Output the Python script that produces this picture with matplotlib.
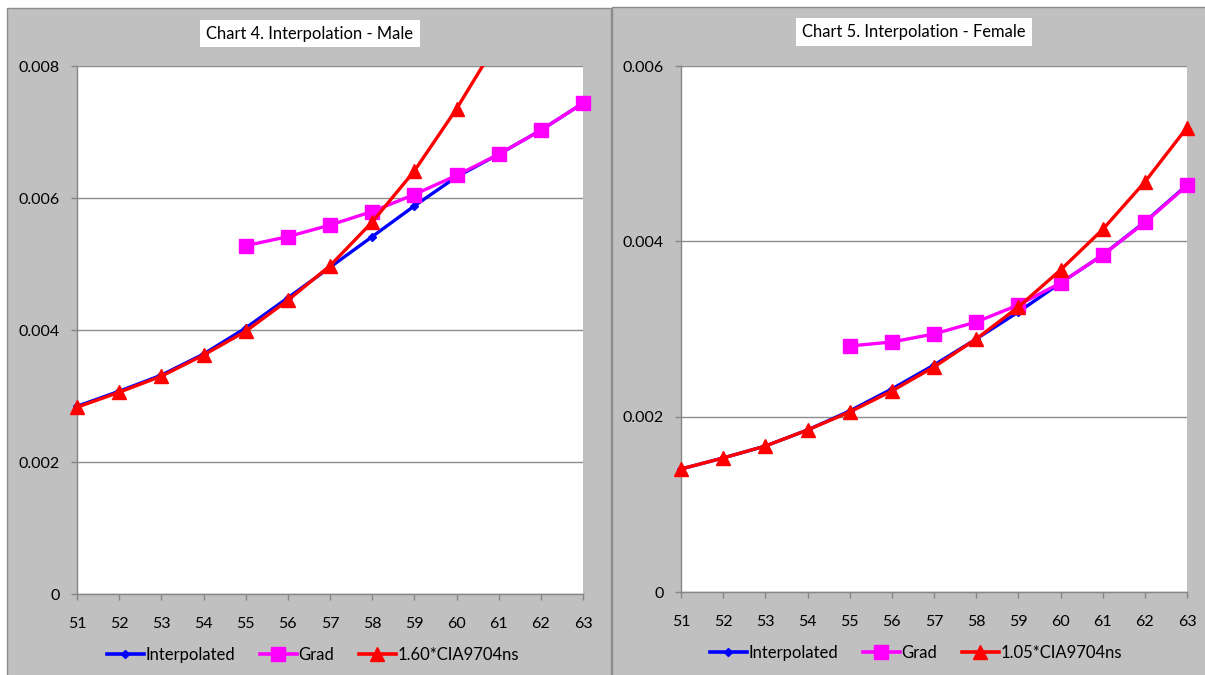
import matplotlib
matplotlib.use("Agg")
import matplotlib.pyplot as plt
from matplotlib.patches import Rectangle
from matplotlib.lines import Line2D

plt.rcParams["font.family"] = ["Lato", "DejaVu Sans"]

# ---- data ----
ages = list(range(51, 64))
grad_ages = list(range(55, 64))

male_interp = [0.002844, 0.003072, 0.003316, 0.003635, 0.004030, 0.004487, 0.004950,
               0.005414, 0.005880, 0.006320, 0.006662, 0.007027, 0.007437]
male_grad = [0.005278, 0.005414, 0.005590, 0.005795, 0.006053, 0.006342, 0.006662,
             0.007027, 0.007437]
male_cia = [0.002829, 0.003057, 0.003300, 0.003620, 0.003980, 0.004450, 0.004973,
            0.005635, 0.006410, 0.007350, 0.008400, 0.009600, 0.011000]

female_interp = [0.001403, 0.001529, 0.001665, 0.001848, 0.002065, 0.002316, 0.002589,
                 0.002886, 0.003194, 0.003525, 0.003844, 0.004221, 0.004643]
female_grad = [0.002806, 0.002852, 0.002943, 0.003080, 0.003274, 0.003525, 0.003844,
               0.004215, 0.004637]
female_cia = [0.001403, 0.001529, 0.001665, 0.001848, 0.002053, 0.002293, 0.002567,
              0.002886, 0.003251, 0.003673, 0.004135, 0.004677, 0.005298]

titles = ["Chart 4. Interpolation - Male", "Chart 5. Interpolation - Female"]
series_labels = [["Interpolated", "Grad", "1.60*CIA9704ns"],
                 ["Interpolated", "Grad", "1.05*CIA9704ns"]]
y_maxes = [0.008, 0.006]
y_ticks = [[0, 0.002, 0.004, 0.006, 0.008], [0, 0.002, 0.004, 0.006]]

# ---- figure geometry (pixels) ----
W, H = 1205, 675
fig = plt.figure(figsize=(W / 100, H / 100), dpi=100, facecolor="white")


def fbox(x0, y0, x1, y1):
    return [x0 / W, 1 - y1 / H, (x1 - x0) / W, (y1 - y0) / H]


GRAY = "#c0c0c0"
EDGE = "#8c8c8c"

# panel backgrounds
for (x0, y0, x1, y1) in [(7, 8, 611, 690), (612, 7, 1220, 690)]:
    b = fbox(x0, y0, x1, y1)
    fig.patches.append(Rectangle((b[0], b[1]), b[2], b[3], transform=fig.transFigure,
                                 facecolor=GRAY, edgecolor=EDGE, lw=1, zorder=-2))

# title boxes
for (x0, y0, x1, y1), t in zip([(200, 20, 420, 47), (796, 18, 1032, 46)], titles):
    b = fbox(x0, y0, x1, y1)
    fig.patches.append(Rectangle((b[0], b[1]), b[2], b[3], transform=fig.transFigure,
                                 facecolor="white", edgecolor="none", zorder=-1))
    fig.text((x0 + x1) / 2 / W, 1 - (y0 + y1) / 2 / H, t, ha="center", va="center",
             fontsize=11.9, color="black", zorder=2)

axes_boxes = [(77, 66, 583, 594), (681, 66, 1187, 592)]
legend_centers = [(313, 655), (916, 653)]
data = [(male_interp, male_grad, male_cia), (female_interp, female_grad, female_cia)]

styles = [dict(color="#0000ff", marker="D", ms=4.5),
          dict(color="#ff00ff", marker="s", ms=9.5),
          dict(color="#ff0000", marker="^", ms=10)]

for i in range(2):
    ax = fig.add_axes(fbox(*axes_boxes[i]))
    ax.set_zorder(5)
    ax.set_facecolor("white")
    ax.set_xlim(51, 63)
    ax.set_ylim(0, y_maxes[i])
    ax.set_xticks(ages)
    ax.set_yticks(y_ticks[i])
    ax.set_yticklabels(["0" if v == 0 else f"{v:.3f}" for v in y_ticks[i]])
    ax.yaxis.grid(True, color=EDGE, lw=1)
    ax.set_axisbelow(True)
    for s in ("top", "right"):
        ax.spines[s].set_visible(False)
    for s in ("left", "bottom"):
        ax.spines[s].set_color("#868686")
        ax.spines[s].set_linewidth(1)
    ax.tick_params(axis="both", direction="out", length=4.5, width=1, color="#868686",
                   labelsize=11.5, labelcolor="black")
    ax.tick_params(axis="y", pad=8)
    ax.tick_params(axis="x", pad=12)

    # clip vertically to the plot area but let markers spill past the sides
    clip = Rectangle((-0.05, 0), 1.1, 1, transform=ax.transAxes)
    xs = [ages, grad_ages, ages]
    handles = []
    for j in range(3):
        ln, = ax.plot(xs[j], data[i][j], lw=2.4, clip_on=True, zorder=3 + j, **styles[j])
        ln.set_clip_path(clip)
        handles.append(Line2D([], [], lw=2.6, **styles[j]))

    cx, cy = legend_centers[i]
    leg = fig.legend(handles, series_labels[i], loc="center",
                     bbox_to_anchor=(cx / W, 1 - cy / H), ncol=3, frameon=False,
                     fontsize=12, numpoints=1, handlelength=2.2, handletextpad=0.1,
                     columnspacing=1.5)
    leg.set_zorder(6)

fig.savefig("out.png", dpi=100, facecolor="white")
